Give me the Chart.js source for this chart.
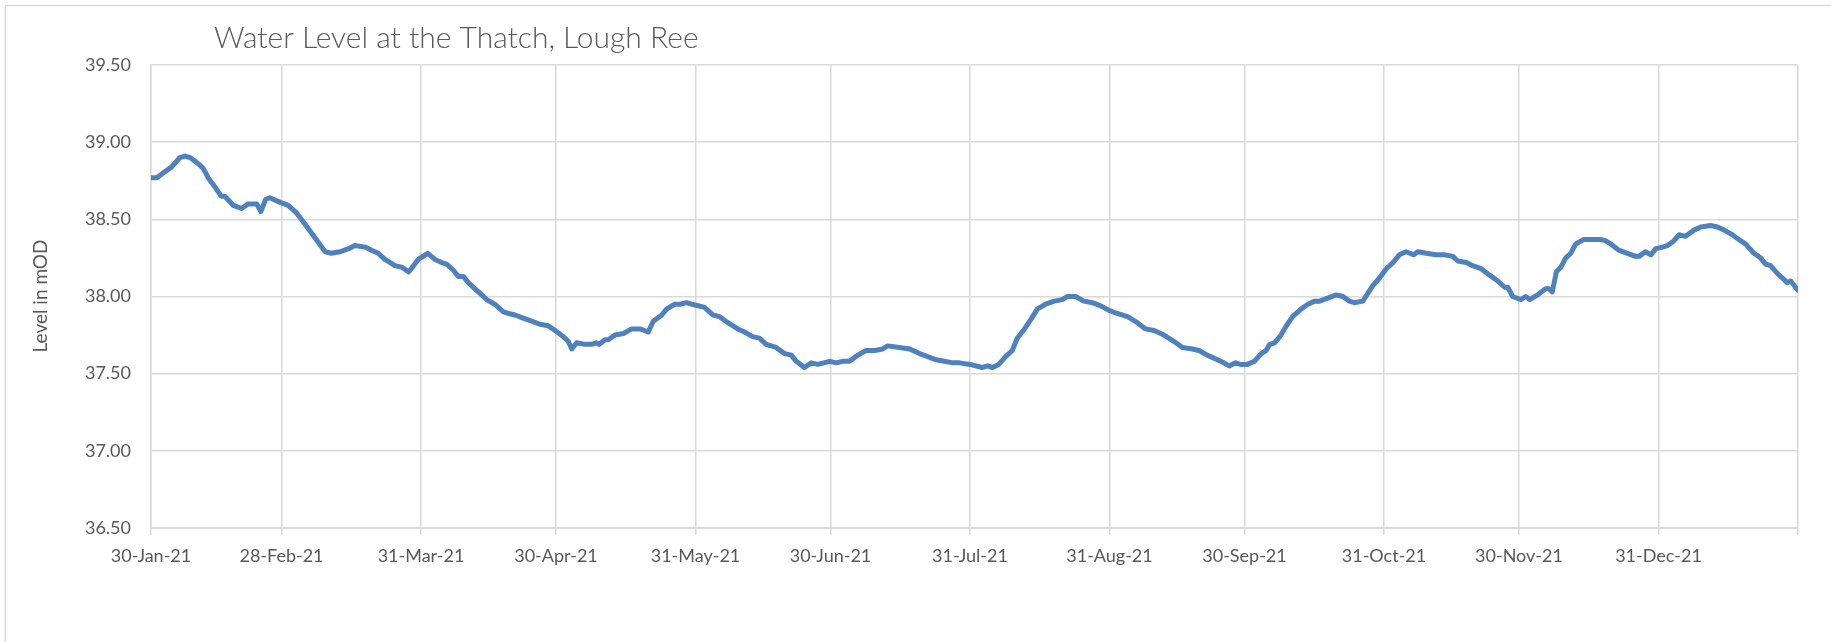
<!DOCTYPE html>
<html>
<head>
<meta charset="utf-8">
<script src="https://cdn.jsdelivr.net/npm/chart.js@4.4.1/dist/chart.umd.min.js"></script>
<style>
  html, body { margin: 0; padding: 0; background: #ffffff; }
  #wrap { position: relative; width: 1831px; height: 642px; }
</style>
</head>
<body>
<div id="wrap"><canvas id="c" width="1831" height="642"></canvas></div>
<script>
// ---- data (day offset from 30-Jan-21, water level in mOD) ----
const titleText = "Water Level at the Thatch, Lough Ree";
const yAxisTitle = "Level in mOD";
const dayOffsets = [
  0, 1.3, 2.7, 4.6, 6.4, 7.6, 8.7, 10.5, 11.6, 12.7, 14.2, 15.6, 16.4, 18.3, 20.1, 21.6, 23.5, 24.4, 25.5, 26.4,
  28.7, 30.5, 32.4, 34.2, 35.7, 37.2, 38.7, 40.1, 42, 43.9, 45.3, 47.6, 49, 50.5, 52, 54.2, 55.7, 57.3, 59.4, 61.5,
  63.1, 64.6, 65.7, 67.2, 68.3, 69.4, 70.5, 72, 73.5, 74.6, 76.4, 78.3, 79.4, 80.9, 82.7, 84.6, 86.4, 88.3, 89.8, 91.6,
  92.7, 93.5, 94.6, 96.4, 97.9, 99, 99.6, 100.9, 101.6, 103.1, 105, 106.8, 108.7, 110.5, 111.6, 113.5, 114.6, 116.4, 117.6, 119,
  120.1, 121.6, 123, 124.9, 126.3, 128.2, 130.4, 131.9, 133.7, 135.2, 136.7, 138.9, 140.8, 142.3, 143.4, 145.2, 146.7, 148.2, 150.8, 152.3,
  153.7, 155.2, 157.1, 158.9, 160.8, 162.6, 163.7, 166.3, 168.6, 170.8, 172.6, 174.5, 176.3, 178.2, 179.7, 182, 184.7, 185.9, 187, 188.4,
  189.9, 191.4, 192.5, 194.1, 195.5, 197, 198.8, 200.7, 202.5, 203.6, 205.5, 207.3, 209.2, 211, 212.9, 214.7, 217, 219.2, 221, 222.9,
  225.1, 227.3, 229.2, 231.4, 232.9, 234.7, 237, 238.4, 239.6, 241, 242.1, 243.6, 245.2, 246.7, 247.8, 248.6, 249.7, 251.1, 252.3, 253.7,
  255.6, 257.1, 258.6, 259.7, 261.5, 263.4, 264.9, 266.3, 267.4, 269.3, 270.4, 271.5, 273, 274.5, 276, 277.4, 278.9, 279.8, 280.6, 281.5,
  283.4, 285.6, 287.4, 289.3, 290.4, 292.3, 293.7, 295.6, 297.4, 299.3, 300.8, 301.5, 302.6, 304.4, 305.5, 306.4, 308.1, 309.9, 310.7, 311.4,
  312.3, 313.3, 314.4, 315.5, 316.6, 318.4, 319.9, 322.1, 323.3, 324.4, 326.2, 328.1, 329.9, 330.7, 332.1, 333.3, 334.4, 335.9, 337, 338.4,
  339.6, 341, 342.9, 344.4, 346.6, 348.1, 349.6, 351.4, 353.3, 354.4, 356.2, 357.7, 358.8, 359.9, 361.4, 362.9, 363.6, 364.4, 365.7, 366
];
const levels = [
  38.77, 38.77, 38.80, 38.84, 38.90, 38.91, 38.90, 38.86, 38.83, 38.77, 38.71, 38.65, 38.65, 38.59, 38.57, 38.60, 38.60, 38.55, 38.63, 38.64,
  38.61, 38.59, 38.54, 38.47, 38.41, 38.35, 38.29, 38.28, 38.29, 38.31, 38.33, 38.32, 38.30, 38.28, 38.24, 38.20, 38.19, 38.16, 38.24, 38.28,
  38.24, 38.22, 38.21, 38.17, 38.13, 38.13, 38.09, 38.05, 38.01, 37.98, 37.95, 37.90, 37.89, 37.88, 37.86, 37.84, 37.82, 37.81, 37.78, 37.74,
  37.71, 37.66, 37.70, 37.69, 37.69, 37.70, 37.69, 37.72, 37.72, 37.75, 37.76, 37.79, 37.79, 37.77, 37.84, 37.88, 37.92, 37.95, 37.95, 37.96,
  37.95, 37.94, 37.93, 37.88, 37.87, 37.83, 37.79, 37.77, 37.74, 37.73, 37.69, 37.67, 37.63, 37.62, 37.58, 37.54, 37.57, 37.56, 37.58, 37.57,
  37.58, 37.58, 37.62, 37.65, 37.65, 37.66, 37.68, 37.67, 37.66, 37.63, 37.61, 37.59, 37.58, 37.57, 37.57, 37.56, 37.54, 37.55, 37.54, 37.56,
  37.61, 37.65, 37.73, 37.79, 37.85, 37.92, 37.95, 37.97, 37.98, 38.00, 38.00, 37.97, 37.96, 37.94, 37.91, 37.89, 37.87, 37.83, 37.79, 37.78,
  37.75, 37.71, 37.67, 37.66, 37.65, 37.62, 37.59, 37.57, 37.55, 37.57, 37.56, 37.56, 37.58, 37.63, 37.65, 37.69, 37.70, 37.75, 37.81, 37.87,
  37.92, 37.95, 37.97, 37.97, 37.99, 38.01, 38.00, 37.97, 37.96, 37.97, 38.02, 38.07, 38.12, 38.18, 38.22, 38.27, 38.29, 38.28, 38.27, 38.29,
  38.28, 38.27, 38.27, 38.26, 38.23, 38.22, 38.20, 38.18, 38.14, 38.10, 38.06, 38.06, 38.00, 37.98, 38.00, 37.98, 38.01, 38.05, 38.05, 38.03,
  38.16, 38.19, 38.25, 38.28, 38.34, 38.37, 38.37, 38.37, 38.36, 38.34, 38.30, 38.28, 38.26, 38.26, 38.29, 38.27, 38.31, 38.32, 38.33, 38.36,
  38.40, 38.39, 38.43, 38.45, 38.46, 38.45, 38.43, 38.40, 38.36, 38.34, 38.28, 38.25, 38.21, 38.20, 38.15, 38.11, 38.09, 38.10, 38.05, 38.04
];
const xTickDays   = [0, 29, 60, 90, 121, 151, 182, 213, 243, 274, 304, 335, 366];
const xTickLabels = ["30-Jan-21", "28-Feb-21", "31-Mar-21", "30-Apr-21", "31-May-21", "30-Jun-21",
                     "31-Jul-21", "31-Aug-21", "30-Sep-21", "31-Oct-21", "30-Nov-21", "31-Dec-21", ""];
const yTickValues = [36.5, 37.0, 37.5, 38.0, 38.5, 39.0, 39.5];

const points = dayOffsets.map((d, i) => ({ x: d, y: levels[i] }));
const FONT = "Lato, 'Open Sans', sans-serif";
const GRID = "#d9d9d9";
const TEXT = "#595959";

const decor = {
  id: "decor",
  beforeDraw(chart) {
    const ctx = chart.ctx;
    ctx.save();
    ctx.fillStyle = "#ffffff";
    ctx.fillRect(0, 0, chart.width, chart.height);
    ctx.strokeStyle = GRID;
    ctx.lineWidth = 1.5;
    ctx.strokeRect(5.5, 5.5, chart.width + 20, chart.height + 20);
    ctx.restore();
  },
  afterDraw(chart) {
    const ctx = chart.ctx;
    ctx.save();
    ctx.fillStyle = TEXT;
    ctx.font = "300 30px " + FONT;
    ctx.textBaseline = "alphabetic";
    ctx.textAlign = "left";
    ctx.fillText(titleText, 214, 48);
    ctx.font = "19px " + FONT;
    ctx.translate(41, 296);
    ctx.rotate(-Math.PI / 2);
    ctx.textAlign = "center";
    ctx.textBaseline = "middle";
    ctx.fillText(yAxisTitle, 0, 0);
    ctx.restore();
  }
};

new Chart(document.getElementById("c"), {
  type: "line",
  data: {
    datasets: [{
      data: points,
      borderColor: "#4f81bd",
      borderWidth: 5,
      pointRadius: 0,
      tension: 0,
      fill: false,
      borderJoinStyle: "round",
      borderCapStyle: "round"
    }]
  },
  options: {
    responsive: false,
    animation: false,
    events: [],
    layout: { padding: { left: 0, right: 33, top: 65, bottom: 0 } },
    plugins: { legend: { display: false }, title: { display: false }, tooltip: { enabled: false } },
    scales: {
      x: {
        type: "linear",
        min: 0,
        max: 366,
        afterFit(s) { s.height = 114; },
        afterBuildTicks(s) { s.ticks = xTickDays.map(v => ({ value: v })); },
        grid: { color: GRID, lineWidth: 1.5, drawTicks: true, tickLength: 7, tickColor: GRID },
        border: { display: true, color: GRID, width: 2 },
        ticks: {
          color: TEXT,
          font: { family: FONT, size: 18 },
          padding: 10,
          maxRotation: 0,
          autoSkip: false,
          callback(v) { const i = xTickDays.indexOf(v); return i >= 0 ? xTickLabels[i] : ""; }
        }
      },
      y: {
        min: 36.5,
        max: 39.5,
        afterFit(s) { s.width = 151; },
        afterBuildTicks(s) { s.ticks = yTickValues.map(v => ({ value: v })); },
        grid: { color: GRID, lineWidth: 1.5, drawTicks: false },
        border: { display: true, color: GRID, width: 1.5 },
        ticks: {
          color: TEXT,
          font: { family: FONT, size: 18 },
          padding: 20,
          callback(v) { return v.toFixed(2); }
        }
      }
    }
  },
  plugins: [decor]
});
</script>
</body>
</html>
